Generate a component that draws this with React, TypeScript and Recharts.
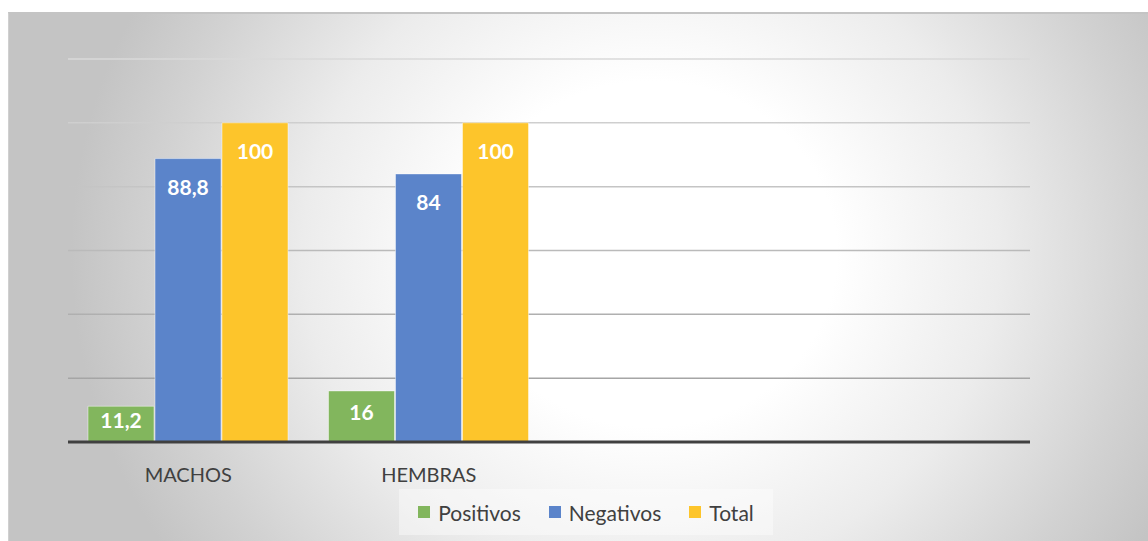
import React from 'react';
import { BarChart, Bar, XAxis, YAxis, CartesianGrid, Legend, LabelList } from 'recharts';

// Valores (%)
const categories = ['MACHOS', 'HEMBRAS', ' ', '  '];
const positivos = [11.2, 16, null, null];
const negativos = [88.8, 84, null, null];
const total = [100, 100, null, null];
const yTicks = [0, 20, 40, 60, 80, 100, 120];

const series = [
  { key: 'positivos', name: 'Positivos', color: '#82b65d' },
  { key: 'negativos', name: 'Negativos', color: '#5b84ca' },
  { key: 'total', name: 'Total', color: '#fdc52b' },
];

const chartData = categories.map((cat, i) => ({
  cat,
  positivos: positivos[i],
  negativos: negativos[i],
  total: total[i],
}));

const FONT = 'Lato, "Open Sans", sans-serif';

function BarLabel(props: any) {
  const { x, y, width, height, value } = props;
  if (value == null) return null;
  const cy = height > 56 ? y + 28 : y + height / 2 - 5;
  return (
    <text
      x={x + width / 2}
      y={cy}
      textAnchor="middle"
      dominantBaseline="central"
      fill="#ffffff"
      fontFamily={FONT}
      fontWeight={700}
      fontSize={21}
    >
      {String(value).replace('.', ',')}
    </text>
  );
}

function LegendBox() {
  return (
    <div
      style={{
        width: 374,
        height: 46,
        background: 'rgba(255,255,255,0.4)',
        display: 'flex',
        alignItems: 'center',
        justifyContent: 'center',
        gap: 28,
        fontFamily: FONT,
        fontSize: 21,
        color: '#404040',
      }}
    >
      {series.map((s) => (
        <span key={s.key} style={{ display: 'flex', alignItems: 'center' }}>
          <span style={{ width: 12, height: 12, background: s.color, marginRight: 8, display: 'inline-block' }} />
          {s.name}
        </span>
      ))}
    </div>
  );
}

export default function App() {
  return (
    <div
      style={{
        position: 'absolute',
        left: 8,
        top: 12,
        width: 1140,
        height: 529,
        borderTop: '2px solid #c4c4c4',
        borderLeft: '1px solid #d0d0d0',
        boxSizing: 'border-box',
        background:
          'radial-gradient(ellipse 580px 540px at 642px 240px, #ffffff 0%, #ffffff 32%, #ececec 60%, #d2d2d2 85%, #c4c4c4 100%)',
      }}
    >
      <BarChart
        width={1139}
        height={527}
        data={chartData}
        margin={{ top: 45, right: 118, left: 59, bottom: 13 }}
        barCategoryGap={20}
        barGap={1}
      >
        <defs>
          <linearGradient id="gridGrad" gradientUnits="userSpaceOnUse" x1="0" y1="40" x2="0" y2="420">
            <stop offset="0%" stopColor="#dadada" />
            <stop offset="100%" stopColor="#9c9c9c" />
          </linearGradient>
        </defs>
        <CartesianGrid vertical={false} stroke="url(#gridGrad)" strokeWidth={1.5} />
        <YAxis hide domain={[0, 120]} ticks={yTicks} />
        <XAxis
          dataKey="cat"
          tickLine={false}
          axisLine={{ stroke: '#404040', strokeWidth: 3 }}
          tickMargin={20}
          height={40}
          tick={{ fill: '#404040', fontSize: 20, fontFamily: FONT }}
        />
        <Legend
          verticalAlign="bottom"
          content={() => <LegendBox />}
          wrapperStyle={{ left: 390, top: 475, bottom: 'auto', width: 374, height: 46 }}
        />
        {series.map((s) => (
          <Bar
            key={s.key}
            dataKey={s.key}
            name={s.name}
            fill={s.color}
            stroke="rgba(255,255,255,0.45)"
            strokeWidth={1}
            isAnimationActive={false}
          >
            <LabelList dataKey={s.key} content={<BarLabel />} />
          </Bar>
        ))}
      </BarChart>
    </div>
  );
}
